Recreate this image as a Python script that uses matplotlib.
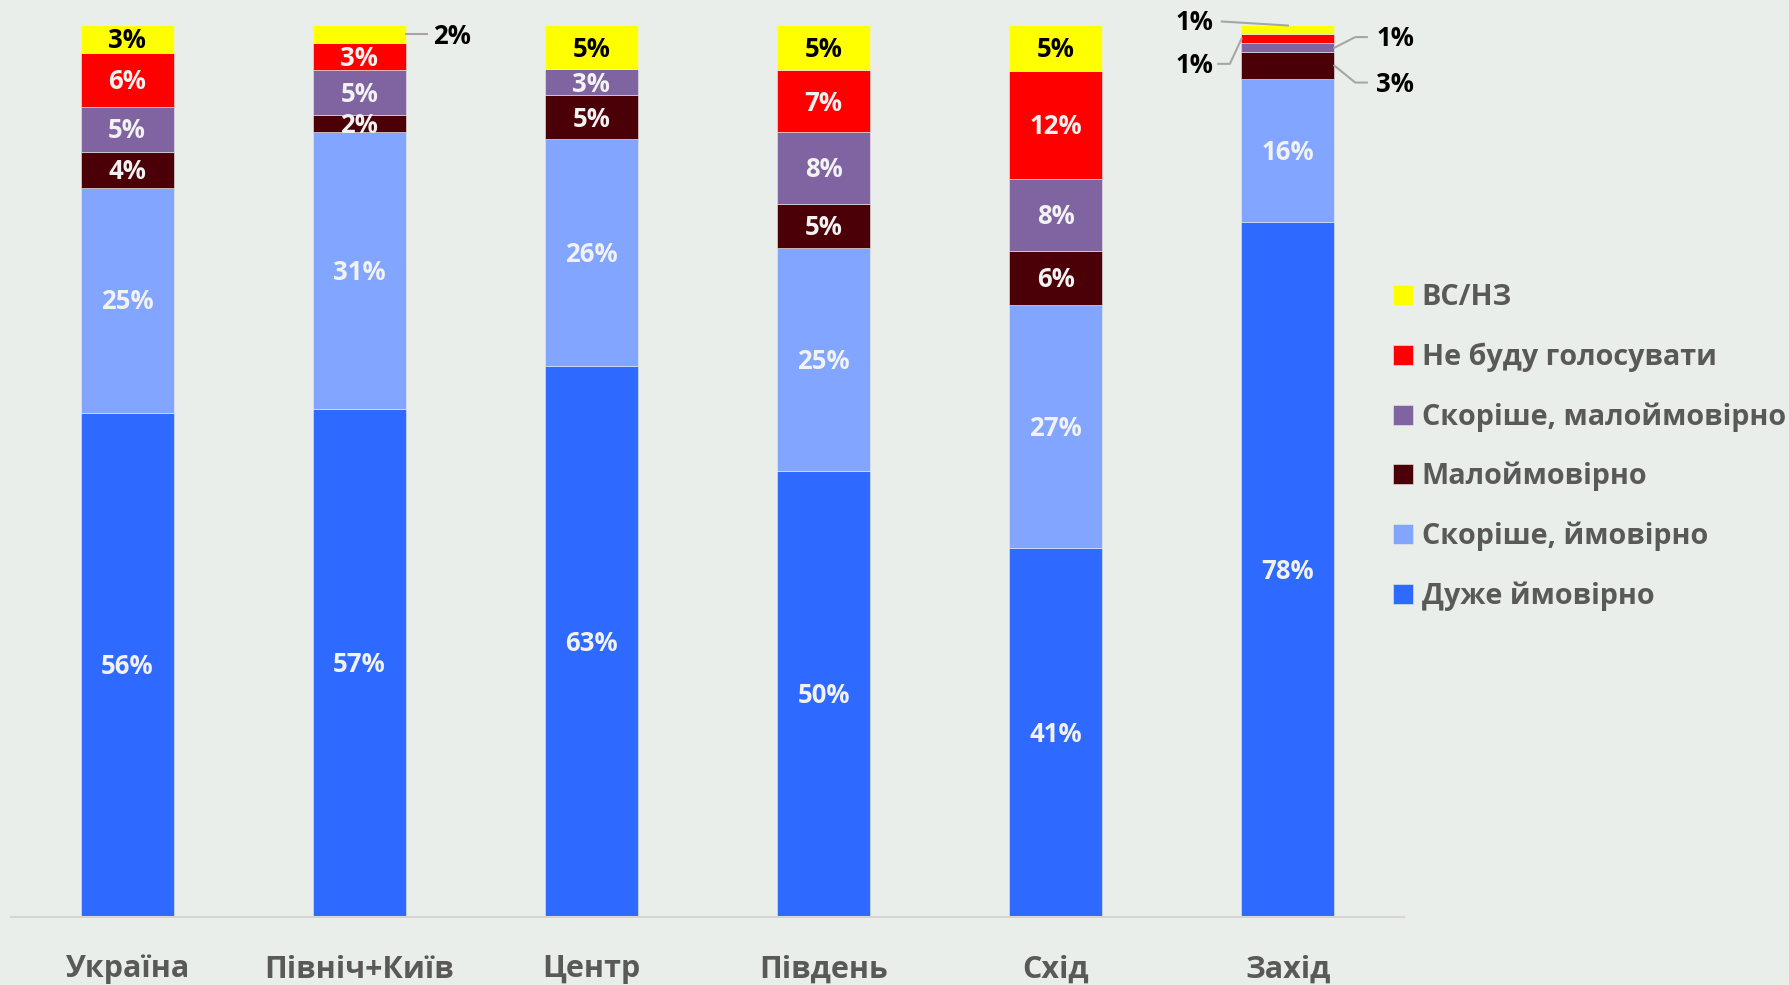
import matplotlib
matplotlib.use("Agg")
import matplotlib.pyplot as plt
import numpy as np

plt.rcParams['font.family'] = ['Open Sans', 'DejaVu Sans']
plt.rcParams['font.weight'] = 'bold'

regions = ["Україна", "Північ+Київ", "Центр", "Південь", "Схід", "Захід"]
series_names = ["Дуже ймовірно", "Скоріше, ймовірно", "Малоймовірно",
                "Скоріше, малоймовірно", "Не буду голосувати", "ВС/НЗ"]
very_likely = [56, 57, 63, 50, 41, 78]
rather_likely = [25, 31, 26, 25, 27, 16]
unlikely = [4, 2, 5, 5, 6, 3]
rather_unlikely = [5, 5, 3, 8, 8, 1]
will_not_vote = [6, 3, 0, 7, 12, 1]
hard_to_say = [3, 2, 5, 5, 5, 1]

colors = ["#2E6AFF", "#82A6FF", "#4A0006", "#8064A2", "#FF0000", "#FFFF00"]
bg = "#EAEEEA"
gray_text = "#595959"
LFS = 18.5

data = np.array([very_likely, rather_likely, unlikely, rather_unlikely,
                 will_not_vote, hard_to_say], dtype=float)
totals = data.sum(axis=0)
shares = data / totals * 100

fig = plt.figure(figsize=(17.9, 9.85), dpi=100, facecolor=bg)
ax = fig.add_axes([11/1790, 1-917/985, (1404-11)/1790, (917-25.5)/985])
ax.set_facecolor(bg)

x = np.arange(len(regions))
bottom = np.zeros(len(regions))
width = 0.40
bars = []
for i, (name, col) in enumerate(zip(series_names, colors)):
    b = ax.bar(x, shares[i], width, bottom=bottom, color=col, label=name,
               edgecolor=bg, linewidth=0.4)
    bars.append(b)
    for j in range(len(regions)):
        val = data[i, j]
        if val <= 0:
            continue
        # outside-labelled segments
        if (j == 1 and i == 5) or (j == 5 and i >= 2):
            continue
        yc = bottom[j] + shares[i, j] / 2
        tc = "black" if i == 5 else "#F2F2F2"
        ax.text(x[j], yc - 0.2, f"{int(val)}%", ha="center", va="center",
                fontsize=LFS, fontweight="bold", color=tc)
    bottom += shares[i]

# Outside labels with leader lines
lc = "#A6A6A6"
def seg_mid(i, j):
    return shares[:i, j].sum() + shares[i, j] / 2

# Північ+Київ ВС/НЗ
j = 1; i = 5
y = seg_mid(i, j)
ax.plot([x[j] + width/2, x[j] + width/2 + 0.09], [y, y], color=lc, lw=1.5, clip_on=False)
ax.text(x[j] + width/2 + 0.12, y - 0.2, f"{int(data[i, j])}%", ha="left", va="center",
        fontsize=LFS, fontweight="bold", color="black")

j = 5
# yellow (top)
i = 5
ytop = shares[:, j].sum()
ax.plot([x[j], x[j] - 0.285], [ytop, ytop + 0.45], color=lc, lw=1.5, clip_on=False)
ax.text(x[j] - 0.32, ytop + 0.3, f"{int(data[i, j])}%", ha="right", va="center",
        fontsize=LFS, fontweight="bold", color="black")
# red (left)
i = 4
y = seg_mid(i, j)
ax.plot([x[j] - width/2, x[j] - width/2 - 0.05, x[j] - width/2 - 0.1],
        [y, y - 2.8, y - 2.8], color=lc, lw=1.5, clip_on=False)
ax.text(x[j] - width/2 - 0.12, y - 3.0, f"{int(data[i, j])}%", ha="right", va="center",
        fontsize=LFS, fontweight="bold", color="black")
# purple (right)
i = 3
y = seg_mid(i, j)
ax.plot([x[j] + width/2, x[j] + width/2 + 0.09, x[j] + width/2 + 0.14],
        [y, y + 1.2, y + 1.2], color=lc, lw=1.5, clip_on=False)
ax.text(x[j] + width/2 + 0.18, y + 1.0, f"{int(data[i, j])}%", ha="left", va="center",
        fontsize=LFS, fontweight="bold", color="black")
# dark (right)
i = 2
y = seg_mid(i, j)
ax.plot([x[j] + width/2, x[j] + width/2 + 0.09, x[j] + width/2 + 0.14],
        [y, y - 1.9, y - 1.9], color=lc, lw=1.5, clip_on=False)
ax.text(x[j] + width/2 + 0.18, y - 2.1, f"{int(data[i, j])}%", ha="left", va="center",
        fontsize=LFS, fontweight="bold", color="black")

ax.set_xlim(-0.5, 5.5)
ax.set_ylim(0, 100)
ax.set_xticks(x)
ax.set_xticklabels(regions, fontsize=22, fontweight="bold", color=gray_text)
ax.tick_params(axis="x", length=0, pad=27)
ax.set_yticks([])
for s in ["top", "right", "left"]:
    ax.spines[s].set_visible(False)
ax.spines["bottom"].set_color("#D5D5D5")
ax.spines["bottom"].set_linewidth(1.5)

handles = [b for b in bars][::-1]
labels = series_names[::-1]
leg = fig.legend(handles, labels, loc="center left",
                 bbox_to_anchor=(1393/1790, 1-447/985),
                 frameon=False, fontsize=20.7, handlelength=0.7, handleheight=0.7,
                 handletextpad=0.3, labelspacing=1.05, borderaxespad=0, borderpad=0)
for t in leg.get_texts():
    t.set_color(gray_text)
    t.set_fontweight("bold")

fig.savefig("out.png", dpi=100, facecolor=bg)
